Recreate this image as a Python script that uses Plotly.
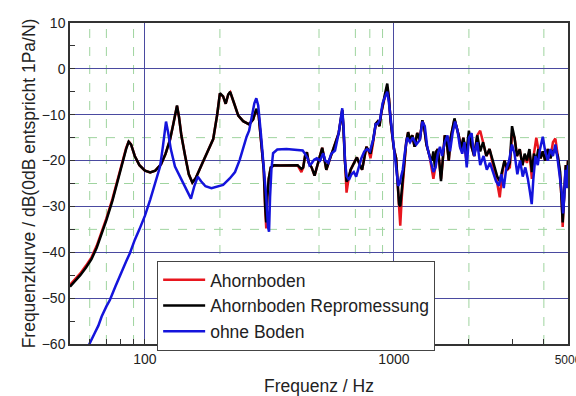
import math
import plotly.graph_objects as go

# ---------------- data ----------------
FREQ_AHORN = [50, 52, 55, 58, 61, 64, 67, 70, 74, 78, 81, 84, 86, 88, 91, 95, 100, 105, 110, 116,
              121, 126, 130, 134.5, 137, 140, 145, 150, 155, 160, 170, 180, 188, 195, 200, 206, 211, 216, 220, 228,
              237, 248, 262, 272, 280, 286, 293, 300, 304, 307, 310, 314, 320, 330, 350, 380, 410, 425, 432, 440,
              447, 455, 467, 480, 490, 500, 515, 525, 535, 550, 565, 585, 600, 612, 620, 627, 635, 645, 655, 670,
              690, 710, 730, 745, 760, 775, 790, 805, 825, 845, 860, 875, 890, 905, 920, 940, 955, 970, 985, 1000,
              1020, 1035, 1048, 1060, 1075, 1100, 1120, 1140, 1160, 1185, 1210, 1240, 1270, 1300, 1320, 1350, 1390, 1420, 1440, 1460,
              1480, 1500, 1520, 1545, 1570, 1600, 1630, 1660, 1690, 1720, 1750, 1780, 1820, 1860, 1900, 1950, 2000, 2050, 2100, 2160,
              2220, 2280, 2350, 2420, 2480, 2540, 2600, 2660, 2720, 2780, 2850, 2920, 2980, 3050, 3120, 3200, 3280, 3350, 3420, 3500,
              3580, 3650, 3730, 3800, 3880, 3960, 4050, 4150, 4250, 4350, 4450, 4550, 4650, 4720, 4760, 4800, 4850, 4900, 4950, 5000]

DB_REPRO = [-47.5, -46.5, -45.0, -43.3, -41.5, -39.0, -36.0, -33.0, -28.8, -24.0, -20.8, -17.5, -15.9, -16.5, -19.0, -21.0, -22.2, -22.6, -22.2, -20.8,
            -18.5, -15.5, -12.0, -8.0, -10.5, -14.5, -19.0, -23.0, -24.8, -23.8, -20.6, -17.8, -15.3, -10.0, -5.3, -6.0, -7.6, -5.6, -5.0, -7.5,
            -10.2, -11.4, -12.1, -11.0, -8.7, -10.0, -16.0, -22.0, -30.0, -33.5, -28.0, -24.0, -21.5, -21.0, -21.1, -21.0, -21.0, -21.8, -21.5, -18.8,
            -18.2, -20.5, -21.5, -23.3, -21.5, -19.5, -17.2, -19.5, -22.0, -20.0, -18.2, -16.0, -14.0, -11.0, -9.0, -13.0, -20.0, -24.6, -24.0, -22.0,
            -20.6, -19.3, -21.0, -22.0, -19.5, -17.0, -17.8, -18.5, -15.5, -12.0, -11.5, -12.5, -9.5, -7.0, -5.5, -3.2, -6.5, -11.5, -15.0, -17.5,
            -19.5, -24.0, -29.5, -30.0, -26.0, -20.0, -16.0, -13.8, -15.5, -14.5, -17.0, -14.0, -15.5, -11.2, -12.5, -16.5, -19.0, -20.0, -18.0, -21.5,
            -18.0, -17.5, -20.0, -24.5, -20.0, -14.5, -16.0, -20.0, -15.0, -13.0, -10.8, -12.5, -14.5, -17.5, -15.0, -18.5, -13.5, -17.0, -19.0, -14.5,
            -18.0, -16.0, -19.0, -17.5, -19.5, -21.5, -23.5, -24.5, -22.0, -20.0, -22.0, -20.5, -12.5, -15.0, -19.0, -17.5, -21.0, -18.5, -20.0, -17.5,
            -22.5, -18.5, -20.0, -17.5, -19.5, -18.0, -20.0, -17.5, -19.5, -18.0, -17.5, -19.0, -22.5, -28.0, -33.5, -30.0, -24.0, -21.0, -25.0, -20.0]

DB_AHORN = [-47.1, -46.1, -44.6, -42.9, -41.1, -38.6, -35.6, -32.6, -28.4, -23.6, -20.5, -17.3, -15.8, -16.5, -19.0, -21.0, -22.2, -22.6, -22.2, -20.8,
            -18.5, -15.5, -12.0, -8.1, -10.5, -14.5, -19.0, -23.0, -24.8, -23.8, -20.6, -17.8, -15.3, -10.0, -5.4, -6.0, -7.6, -5.6, -5.1, -7.5,
            -10.2, -11.4, -12.1, -11.0, -8.9, -10.0, -16.0, -22.0, -30.5, -34.8, -28.0, -24.0, -21.5, -21.0, -21.1, -21.0, -21.0, -22.5, -21.5, -18.8,
            -18.2, -20.5, -21.5, -23.3, -21.5, -19.5, -17.2, -19.5, -22.0, -20.0, -18.2, -16.0, -14.0, -11.0, -9.0, -13.0, -20.5, -27.0, -24.5, -22.0,
            -20.6, -19.3, -21.0, -22.0, -19.5, -17.0, -17.8, -19.5, -16.0, -12.0, -11.5, -12.5, -9.5, -7.5, -6.0, -4.0, -6.5, -11.5, -15.0, -17.5,
            -19.5, -25.0, -32.0, -34.2, -28.0, -20.0, -16.0, -13.8, -15.5, -14.5, -17.0, -14.0, -15.5, -11.2, -12.5, -16.5, -19.0, -22.0, -24.0, -22.0,
            -18.0, -17.5, -20.0, -24.0, -20.0, -14.5, -16.0, -20.0, -15.0, -13.0, -11.0, -12.5, -14.5, -17.5, -15.0, -19.5, -15.0, -17.0, -19.0, -14.5,
            -13.5, -16.0, -19.0, -17.5, -20.0, -22.5, -25.0, -28.0, -23.0, -20.0, -22.0, -21.5, -14.0, -15.0, -19.0, -17.5, -21.0, -19.0, -20.5, -18.0,
            -24.0, -18.5, -15.0, -17.5, -19.5, -18.0, -20.0, -17.5, -19.5, -16.0, -15.2, -19.0, -23.5, -29.0, -34.5, -30.0, -24.0, -21.0, -25.0, -20.0]

FREQ_OHNE = [58, 60, 63, 65, 67, 70, 72.3, 76, 80, 84, 87, 91, 95, 100, 105, 110, 115, 118, 121.5, 124,
             127, 132, 138, 143, 148, 153, 158, 163, 168, 175, 185, 195, 206, 219, 230, 240, 248, 256, 262, 268,
             275, 280, 285, 292, 300, 307, 312, 315, 318, 322, 327, 340, 370, 410, 430, 440, 450, 458, 467, 478,
             490, 505, 520, 530, 545, 560, 580, 600, 612, 620, 628, 636, 645, 660, 675, 690, 705, 722, 740, 760,
             780, 800, 825, 845, 860, 880, 900, 925, 940, 955, 975, 995, 1020, 1040, 1055, 1068, 1085, 1105, 1130, 1160,
             1190, 1230, 1270, 1300, 1330, 1360, 1400, 1440, 1470, 1500, 1530, 1560, 1600, 1640, 1680, 1720, 1760, 1800, 1840, 1880,
             1920, 1960, 2000, 2050, 2100, 2160, 2220, 2290, 2360, 2430, 2500, 2570, 2640, 2700, 2760, 2820, 2900, 2980, 3050, 3130,
             3210, 3290, 3370, 3450, 3520, 3575, 3630, 3700, 3780, 3860, 3960, 4050, 4150, 4250, 4350, 4450, 4550, 4650, 4720, 4780,
             4830, 4880, 4950, 5000]

DB_OHNE = [-61.5, -60.0, -57.5, -56.0, -54.0, -51.8, -50.4, -47.5, -44.5, -42.0, -40.2, -37.3, -35.0, -32.0, -28.5, -25.0, -21.3, -17.0, -11.5, -14.0,
           -17.5, -21.3, -23.5, -25.0, -26.8, -28.3, -25.5, -23.5, -24.5, -25.6, -26.0, -25.6, -25.3, -23.9, -22.5, -19.9, -17.0, -14.8, -13.5, -11.0,
           -7.5, -6.4, -8.0, -14.0, -21.0, -28.0, -34.5, -35.5, -28.0, -22.0, -18.4, -17.6, -17.5, -17.6, -17.8, -18.6, -19.5, -21.0, -20.6, -19.8,
           -19.5, -20.0, -18.4, -20.0, -20.5, -18.5, -17.8, -14.0, -11.0, -8.6, -13.0, -20.0, -23.4, -24.2, -23.0, -22.5, -23.5, -21.5, -19.5, -18.0,
           -17.5, -18.0, -15.5, -12.0, -12.0, -11.0, -7.5, -5.8, -5.0, -7.5, -12.0, -17.5, -21.5, -25.5, -25.0, -23.5, -22.0, -18.4, -15.0, -16.0,
           -15.0, -16.5, -15.5, -11.5, -12.5, -17.0, -19.5, -22.5, -21.5, -18.5, -17.0, -19.0, -16.0, -14.5, -18.0, -14.0, -11.5, -13.5, -17.0, -18.5,
           -16.0, -21.5, -15.0, -14.0, -19.0, -16.0, -21.0, -19.0, -22.0, -20.5, -22.5, -24.5, -25.5, -23.0, -26.0, -22.0, -20.0, -16.5, -18.5, -23.0,
           -20.0, -23.5, -21.5, -24.0, -27.0, -29.5, -24.0, -19.0, -21.0, -17.5, -14.8, -18.0, -20.0, -17.5, -19.0, -16.5, -20.0, -24.0, -27.0, -31.5,
           -28.0, -22.0, -26.0, -21.0]

SERIES = [
    ("Ahornboden", FREQ_AHORN, DB_AHORN, "#e8161e"),
    ("Ahornboden Repromessung", FREQ_AHORN, DB_REPRO, "#000000"),
    ("ohne Boden", FREQ_OHNE, DB_OHNE, "#1414dc"),
]

X_RANGE_HZ = [50, 5000]
X_TICKS = [100, 1000, 5000]
X_TICKTEXT = ["100", "1000", "<span style='font-size:12px'>5000</span>"]
X_MINOR = [60, 70, 80, 90, 200, 300, 400, 500, 600, 700, 800, 900, 2000, 3000, 4000]
X_DASHED = [60, 70, 90, 200, 500, 700, 800, 900, 2000, 4000]
Y_DASHED = [-15, -25, -35]

# ---------------- figure ----------------
FONT = "Liberation Sans, Arial, sans-serif"
fig = go.Figure()
for name, fx, fy, col in SERIES:
    fig.add_trace(go.Scatter(x=fx, y=fy, mode="lines", name=name,
                             line=dict(color=col, width=2.5)))

shapes = []
for xv in X_DASHED:
    shapes.append(dict(type="line", xref="x", yref="paper", x0=xv, x1=xv, y0=0, y1=1,
                       line=dict(color="#9fd49f", width=1, dash="dash"), layer="below"))
for yv in Y_DASHED:
    shapes.append(dict(type="line", xref="paper", yref="y", x0=0, x1=1, y0=yv, y1=yv,
                       line=dict(color="#9fd49f", width=1, dash="dash"), layer="below"))

fig.update_layout(
    width=576, height=396,
    margin=dict(l=70, r=8, t=23, b=52),
    paper_bgcolor="white", plot_bgcolor="white",
    font=dict(family=FONT, size=14, color="#222"),
    shapes=shapes,
    showlegend=True,
    legend=dict(x=0.175, y=0.259, xanchor="left", yanchor="top",
                bgcolor="white", bordercolor="#444", borderwidth=1,
                font=dict(family=FONT, size=17.5, color="#222"),
                tracegroupgap=0, itemwidth=42),
)

fig.update_xaxes(
    type="log", automargin=False,
    range=[math.log10(X_RANGE_HZ[0]), math.log10(X_RANGE_HZ[1]) + 1e-5],
    tickvals=X_TICKS, ticktext=X_TICKTEXT,
    ticks="inside", ticklen=5, tickcolor="#333",
    ticklabelstandoff=1, ticklabeloverflow="allow",
    showgrid=True, gridcolor="#4a4aa0", gridwidth=1,
    minor=dict(tickvals=X_MINOR, ticks="inside", ticklen=5, tickcolor="#333", showgrid=False),
    showline=True, linecolor="#333", linewidth=1.5, mirror=True,
    zeroline=False,
    tickfont=dict(size=14),
    title=dict(text="Frequenz / Hz", font=dict(size=17.5), standoff=18),
)
fig.update_yaxes(
    automargin=False,
    range=[-60, 10], dtick=10, tick0=0,
    ticks="inside", ticklen=5, tickcolor="#333",
    showgrid=True, gridcolor="#4a4aa0", gridwidth=1,
    minor=dict(dtick=5, ticks="inside", ticklen=5, tickcolor="#333", showgrid=False),
    showline=True, linecolor="#333", linewidth=1.5, mirror=True,
    zeroline=False,
    tickfont=dict(size=14),
    title=dict(text="Frequenzkurve / dB(0dB entspricht 1Pa/N)", font=dict(size=17.5), standoff=2),
)

fig.write_html("out.html")
